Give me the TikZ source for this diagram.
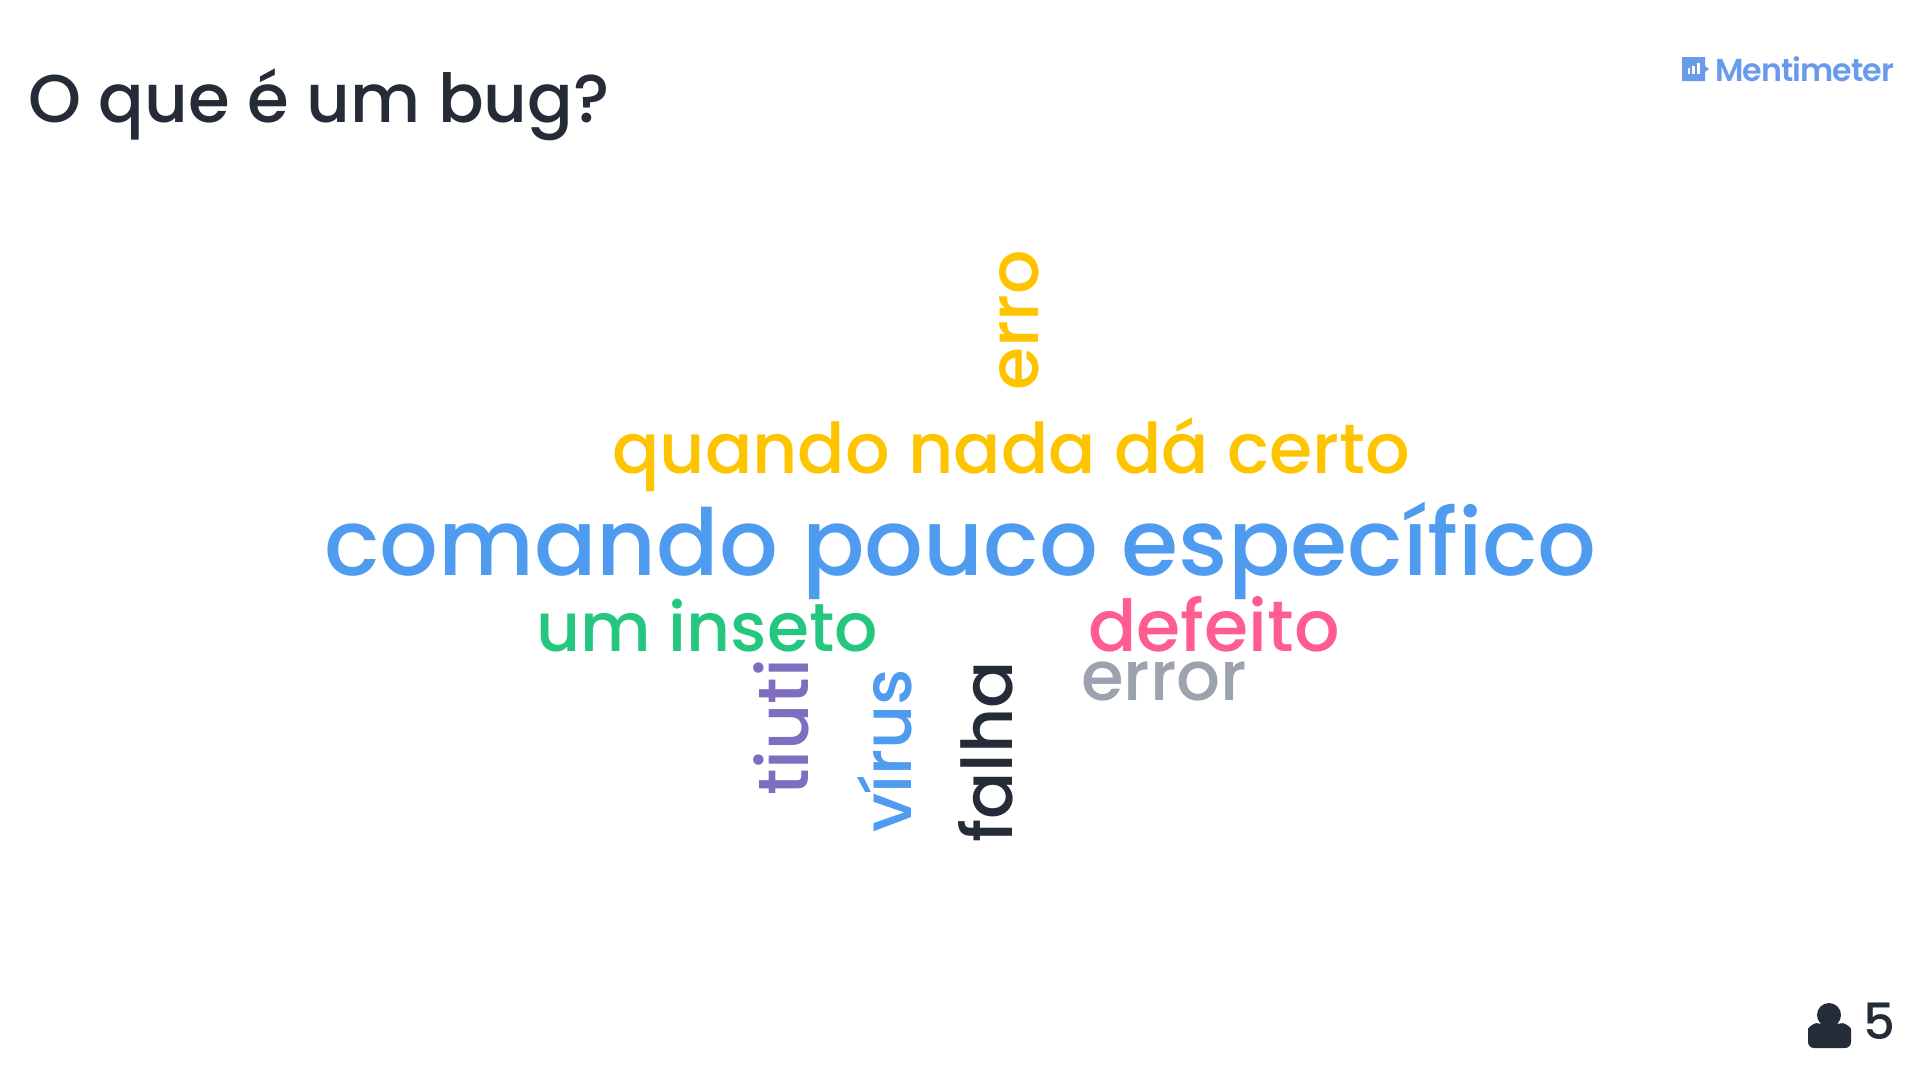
\documentclass[tikz,border=0pt]{standalone}
\usepackage{fontspec}
\setmainfont{Poppins Medium}
\newfontfamily\logofont{Poppins SemiBold}[LetterSpace=-3]
\usepackage{tikz}
\usetikzlibrary{positioning}

\definecolor{inkdark}{HTML}{252B37}
\definecolor{wordyellow}{HTML}{FFC400}
\definecolor{wordblue}{HTML}{4F9BEF}
\definecolor{wordgreen}{HTML}{25C67F}
\definecolor{wordpink}{HTML}{FF5C8F}
\definecolor{wordgray}{HTML}{9CA3AF}
\definecolor{wordpurple}{HTML}{7F6EC0}
\definecolor{logoblue}{HTML}{6A9BEA}

\begin{document}
\begin{tikzpicture}[x=1pt, y=-1pt,
    word/.style={inner sep=0pt, anchor=base west},
    upword/.style={word, rotate=90}]
                \useasboundingbox (0,0) rectangle (1920,1080);

                % TITLE AND LOGO
                \node[word, inkdark, font=\fontsize{67.5}{67.5}\selectfont] (title) at (28,122) {O que é um bug?};
                \node[word, logoblue, font=\logofont\fontsize{31.7}{31.7}\selectfont] (logo) at (1715,81) {Mentimeter};

                % LOGO ICON
                \fill[logoblue] (1682,57) -- (1705,57) -- (1705,66) -- (1709,69) -- (1705,72) -- (1705,81) -- (1682,81) -- cycle;
                \fill[white] (1687.5,68) rectangle (1690,74);
                \fill[white] (1692,66) rectangle (1694.5,74);
                \fill[white] (1697,63) rectangle (1699.5,74);

                % WORDS
                \node[word, wordblue, font=\fontsize{92.3}{92.3}\selectfont] (comando) at (324,575) {comando pouco específico};
                \node[word, wordyellow, font=\fontsize{70}{70}\selectfont] (quando) at (612,473) {quando nada dá certo};
                \node[word, wordgreen, font=\fontsize{68}{68}\selectfont] (inseto) at (536,651) {um inseto};
                \node[word, wordpink, font=\fontsize{71.5}{71.5}\selectfont] (defeito) at (1088,651) {defeito};
                \node[word, wordgray, font=\fontsize{69}{69}\selectfont] (error) at (1081,700) {error};
                \node[upword, wordyellow, font=\fontsize{69.7}{69.7}\selectfont] (erro) at (1038,391) {erro};
                \node[upword, wordpurple, font=\fontsize{71.3}{71.3}\selectfont] (tiuti) at (808,796) {tiuti};
                \node[upword, wordblue, font=\fontsize{68}{68}\selectfont] (virus) at (911,833) {vírus};
                \node[upword, inkdark, font=\fontsize{70}{70}\selectfont] (falha) at (1012,843) {falha};

                % VOTES
                \fill[inkdark] (1829,1015) circle (12);
                \fill[inkdark, rounded corners=6pt] (1808,1048) -- (1808,1035) .. controls (1808,1027) and (1815,1023) .. (1822,1024) -- (1837,1024) .. controls (1844,1023) and (1851,1027) .. (1851,1035) -- (1851,1048) -- cycle;
                \node[word, inkdark, font=\fontsize{50}{50}\selectfont] (votes) at (1863,1039) {5};
            \end{tikzpicture}
\end{document}
